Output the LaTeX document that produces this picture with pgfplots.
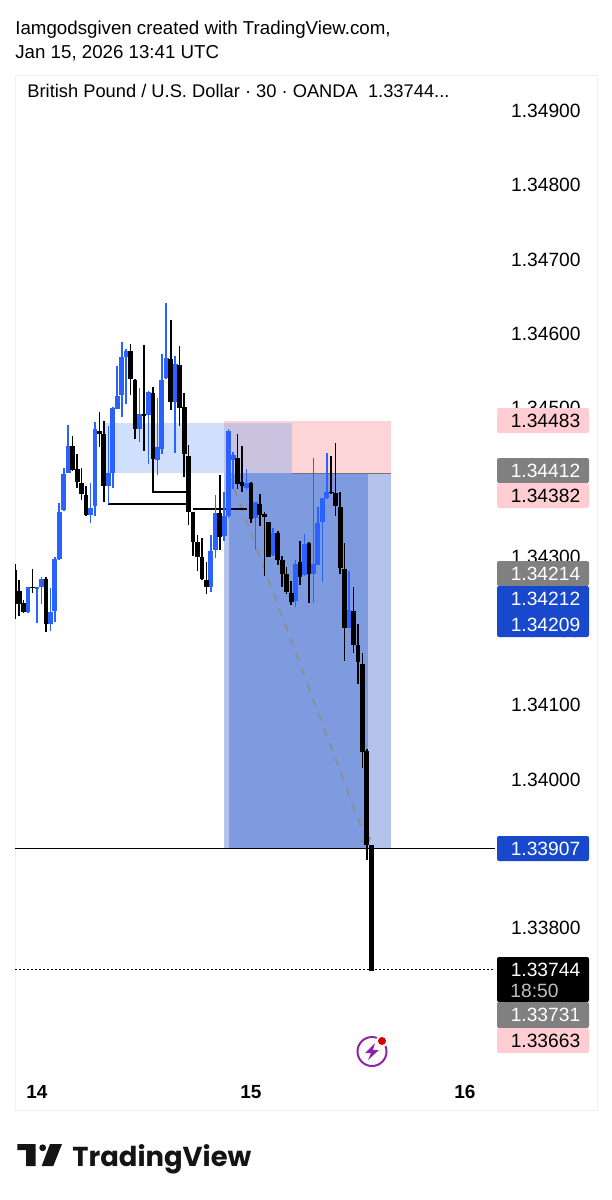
\documentclass[border=0pt]{standalone}
\usepackage{fontspec}
\setmainfont{Liberation Sans}
\newfontfamily\tvfont{Poppins}
\usepackage{pgfplots}
\usepackage{pgfplotstable}
\pgfplotsset{compat=1.18}
\usetikzlibrary{arrows.meta}

\definecolor{upblue}{HTML}{2962FF}
\definecolor{palebox}{HTML}{D0DFFB}
\definecolor{redbox}{HTML}{FDD5D8}
\definecolor{overlapbox}{HTML}{C9C3DF}
\definecolor{sideblue}{HTML}{B4C3EC}
\definecolor{mainblue}{HTML}{7F9BE0}
\definecolor{tagpink}{HTML}{FFCDD2}
\definecolor{taggray}{HTML}{808080}
\definecolor{tagblue}{HTML}{1848CC}
\definecolor{boltpurple}{HTML}{8E24AA}

% x is the candle number, 48 candles per day, 0 = start of the 14th
\pgfplotstableread{
x o h l c
-2 1.34226 1.34260 1.34225 1.34260
0 1.34258 1.34260 1.34211 1.34260
1 1.34260 1.34273 1.34237 1.34271
3 1.34211 1.34257 1.34200 1.34227
4 1.34228 1.34300 1.34212 1.34298
5 1.34298 1.34373 1.34296 1.34361
6 1.34363 1.34420 1.34362 1.34412
7 1.34413 1.34478 1.34413 1.34450
12 1.34357 1.34400 1.34346 1.34367
13 1.34368 1.34482 1.34356 1.34471
16 1.34396 1.34477 1.34372 1.34413
17 1.34413 1.34502 1.34394 1.34501
18 1.34500 1.34557 1.34500 1.34518
19 1.34518 1.34589 1.34488 1.34570
20 1.34570 1.34580 1.34506 1.34577
23 1.34473 1.34528 1.34455 1.34492
25 1.34491 1.34525 1.34426 1.34522
27 1.34431 1.34515 1.34411 1.34448
28 1.34447 1.34574 1.34439 1.34540
29 1.34540 1.34642 1.34540 1.34567
31 1.34509 1.34571 1.34441 1.34561
39 1.34260 1.34330 1.34253 1.34309
40 1.34310 1.34385 1.34300 1.34360
42 1.34328 1.34387 1.34322 1.34355
43 1.34355 1.34473 1.34352 1.34470
44 1.34430 1.34442 1.34392 1.34437
47 1.34394 1.34419 1.34390 1.34401
49 1.34352 1.34374 1.34311 1.34374
53 1.34302 1.34340 1.34302 1.34332
58 1.34241 1.34296 1.34233 1.34291
60 1.34275 1.34331 1.34275 1.34317
62 1.34277 1.34434 1.34239 1.34290
63 1.34290 1.34367 1.34289 1.34347
64 1.34347 1.34381 1.34268 1.34380
65 1.34380 1.34441 1.34379 1.34388
70 1.34204 1.34281 1.34204 1.34229
}\upcandles

\pgfplotstableread{
x o h l c
-5 1.34282 1.34290 1.34217 1.34237
-4 1.34255 1.34269 1.34221 1.34238
-3 1.34239 1.34243 1.34226 1.34227
-1 1.34260 1.34284 1.34251 1.34259
2 1.34272 1.34273 1.34199 1.34211
8 1.34450 1.34463 1.34416 1.34418
9 1.34418 1.34438 1.34392 1.34400
10 1.34400 1.34420 1.34376 1.34385
11 1.34384 1.34396 1.34356 1.34357
14 1.34470 1.34496 1.34449 1.34466
15 1.34466 1.34484 1.34374 1.34396
21 1.34577 1.34587 1.34519 1.34540
22 1.34539 1.34539 1.34459 1.34473
24 1.34492 1.34586 1.34443 1.34490
26 1.34522 1.34528 1.34430 1.34432
30 1.34566 1.34620 1.34498 1.34508
32 1.34560 1.34585 1.34477 1.34501
33 1.34502 1.34520 1.34407 1.34438
34 1.34437 1.34451 1.34343 1.34361
35 1.34361 1.34361 1.34303 1.34320
36 1.34320 1.34330 1.34281 1.34300
37 1.34300 1.34326 1.34269 1.34270
38 1.34269 1.34293 1.34250 1.34260
41 1.34360 1.34411 1.34310 1.34328
45 1.34435 1.34465 1.34392 1.34400
46 1.34402 1.34449 1.34388 1.34396
48 1.34400 1.34402 1.34347 1.34352
50 1.34373 1.34385 1.34341 1.34358
51 1.34358 1.34361 1.34275 1.34354
52 1.34348 1.34348 1.34300 1.34301
54 1.34332 1.34336 1.34290 1.34296
55 1.34296 1.34302 1.34260 1.34278
56 1.34277 1.34288 1.34251 1.34253
57 1.34252 1.34269 1.34236 1.34241
59 1.34294 1.34322 1.34263 1.34274
61 1.34319 1.34320 1.34238 1.34277
66 1.34388 1.34436 1.34385 1.34387
67 1.34385 1.34453 1.34355 1.34368
68 1.34368 1.34388 1.34278 1.34286
69 1.34284 1.34320 1.34161 1.34204
71 1.34229 1.34260 1.34171 1.34182
72 1.34182 1.34209 1.34129 1.34159
73 1.34156 1.34170 1.34016 1.34038
74 1.34040 1.34042 1.33892 1.33913
75 1.33913 1.33913 1.33744 1.33744
}\downcandles

% wick: thin error bar low-high, body: thick error bar open-close
\newcommand{\candles}[2]{%
  \addplot[draw=none, no markers, error bars/.cd, y dir=both, y explicit, error mark=none,
    error bar style={draw=#2, solid, line width=0.8pt}]
    table[x=x, y expr={(\thisrow{h}+\thisrow{l})/2}, y error expr={(\thisrow{h}-\thisrow{l})/2}] {#1};
  \addplot[draw=none, no markers, error bars/.cd, y dir=both, y explicit, error mark=none,
    error bar style={draw=#2, solid, line width=2.4pt}]
    table[x=x, y expr={(\thisrow{o}+\thisrow{c})/2}, y error expr={abs(\thisrow{o}-\thisrow{c})/2}] {#1};
}

\newcommand{\tag}[4]{% top, bottom (px), colour, text colour / text
  \fill[#3, rounded corners=1pt] (497,#1) rectangle (589,#2);
  \node[text=#4, font=\pricefont, inner sep=0, anchor=center] at (545.5,{(#1+#2)/2}) {\tagtext};
}
\newcommand{\pricefont}{\fontsize{9.6}{11}\selectfont}

\begin{document}
\begin{tikzpicture}
\path (0,0) rectangle (305.5pt,-600pt);
\begin{axis}[
    at={(7.5pt,-37.5pt)}, anchor=north west,
    scale only axis,
    width=291pt, height=517.5pt,
    xmin=-4.935, xmax=125.62,
    ymin=1.33555, ymax=1.349485,
    axis line style={draw=black!6, line width=0.5pt},
    xtick={0,48,96},
    xticklabels={14,15,16},
    xticklabel style={anchor=center, yshift=9pt, inner sep=0pt, font=\fontsize{9.5}{11}\selectfont\bfseries},
    ytick={1.338,1.340,1.341,1.342,1.343,1.345,1.346,1.347,1.348,1.349},
    yticklabel pos=right,
    yticklabel style={anchor=east, xshift=-8pt, inner sep=0pt, font=\pricefont,
      /pgf/number format/.cd, fixed, fixed zerofill, precision=5, assume math mode=true},
    scaled y ticks=false,
    major tick length=0pt,
    tick style={draw=none},
]
% position boxes
\addplot[fill=palebox, draw=none] coordinates {(15,1.34412) (15,1.34480) (57.1,1.34480) (57.1,1.34412)} --cycle;
\addplot[fill=redbox, draw=none] coordinates {(41.95,1.34412) (41.95,1.34483) (79.4,1.34483) (79.4,1.34412)} --cycle;
\addplot[fill=overlapbox, draw=none] coordinates {(41.95,1.34412) (41.95,1.34480) (57.1,1.34480) (57.1,1.34412)} --cycle;
\addplot[fill=sideblue, draw=none] coordinates {(41.95,1.33907) (41.95,1.34412) (79.4,1.34412) (79.4,1.33907)} --cycle;
\addplot[fill=mainblue, draw=none] coordinates {(43.07,1.33907) (43.07,1.34412) (74.25,1.34412) (74.25,1.33907)} --cycle;
\addplot[draw=black!55, line width=0.6pt] coordinates {(57.1,1.34412) (79.4,1.34412)};
% dashed projection
\addplot[draw=black!45, line width=0.8pt, dash pattern=on 4pt off 4pt, -{Straight Barb[length=3pt,width=5pt]}]
  coordinates {(42.98,1.34412) (74.25,1.33911)};
% stepped level lines
\addplot[black, line width=0.7pt] coordinates {(16,1.34396) (16,1.34371) (34,1.34371)};
\addplot[black, line width=0.7pt] coordinates {(26,1.34432) (26,1.34387) (34,1.34387)};
\addplot[black, line width=0.7pt] coordinates {(35,1.34364) (47,1.34364)};
% price lines
\addplot[black, line width=0.7pt] coordinates {(-4.935,1.33907) (102.7,1.33907)};
\addplot[black, line width=0.8pt, dash pattern=on 0.8pt off 1.2pt] coordinates {(-4.935,1.33744) (102.7,1.33744)};
\candles{\upcandles}{upblue}
\candles{\downcandles}{black}
\end{axis}

\begin{scope}[x=0.5pt,y=-0.5pt]
% header
\node[anchor=base west, inner sep=0, font=\fontsize{9.35}{11}\selectfont] at (15,34) {Iamgodsgiven created with TradingView.com,};
\node[anchor=base west, inner sep=0, font=\fontsize{9.35}{11}\selectfont] at (15,58) {Jan 15, 2026 13:41 UTC};
\node[anchor=base west, inner sep=0, font=\fontsize{9.15}{11}\selectfont] at (27,97) {British Pound / U.S. Dollar · 30 · OANDA\ \ 1.33744...};

% price tags
\def\tagtext{1.34483}\tag{408}{433}{tagpink}{black}
\def\tagtext{1.34412}\tag{458}{483}{taggray}{white}
\def\tagtext{1.34382}\tag{483}{508}{tagpink}{black}
\def\tagtext{1.34214}\tag{561}{586}{taggray}{white}
\fill[tagblue, rounded corners=1pt] (497,586) rectangle (589,637);
\node[text=white, font=\pricefont, inner sep=0] at (545.5,599) {1.34212};
\node[text=white, font=\pricefont, inner sep=0] at (545.5,624.5) {1.34209};
\def\tagtext{1.33907}\tag{836}{861}{tagblue}{white}
\fill[black, rounded corners=1pt] (497,957) rectangle (589,1002);
\node[text=white, font=\pricefont, inner sep=0] at (545.5,970) {1.33744};
\node[text=white!75!black, font=\pricefont, inner sep=0, anchor=west] at (510,991) {18:50};
\def\tagtext{1.33731}\tag{1002}{1028}{taggray}{white}
\def\tagtext{1.33663}\tag{1028}{1053}{tagpink}{black}

% lightning badge
\draw[boltpurple, line width=1pt] (372,1051.5) circle (14.5);
\fill[white] (382,1041) circle (6);
\fill[red!85!black] (382,1041) circle (4);
\fill[boltpurple] (375,1043) -- (365,1053) -- (371,1053) -- (368,1060) -- (379,1050) -- (373,1050) -- cycle;

% logo
\fill[black!92] (17.3,1144) -- (35.7,1144) -- (35.7,1166) -- (26,1166) -- (26,1150) -- (17.3,1150) -- cycle;
\fill[black!92] (42.7,1147.7) circle (3.4);
\fill[black!92] (50,1144) -- (62,1144) -- (53.3,1166) -- (41.7,1166) -- cycle;
\node[anchor=base west, inner sep=0, font=\tvfont\bfseries\fontsize{13.7}{18}\selectfont, text=black!92] at (72,1166) {TradingView};
\end{scope}
\end{tikzpicture}
\end{document}
